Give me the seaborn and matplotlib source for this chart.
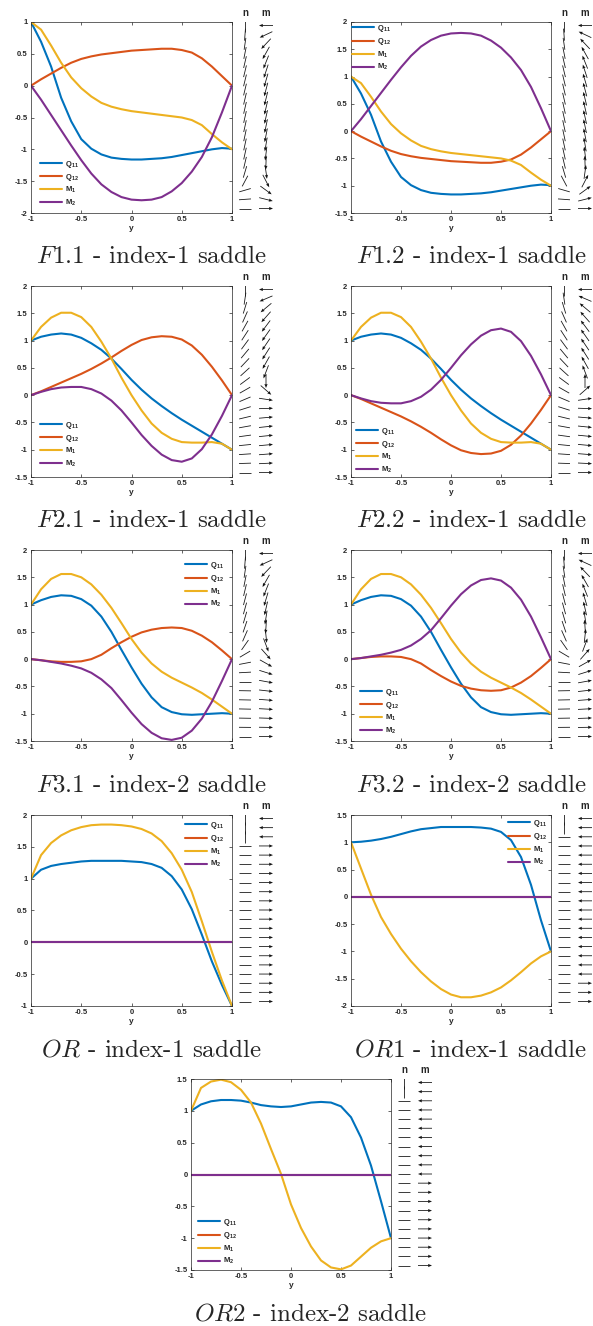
import numpy as np
import pandas as pd
import matplotlib
matplotlib.use("Agg")
import matplotlib.pyplot as plt
from matplotlib.collections import LineCollection
import seaborn as sns

# ---------------- data ----------------
Y_GRID = [-1.0, -0.9, -0.8, -0.7, -0.6, -0.5, -0.4, -0.3, -0.2, -0.1, 0.0,
          0.1, 0.2, 0.3, 0.4, 0.5, 0.6, 0.7, 0.8, 0.9, 1.0]

F11_Q11 = [1.00, 0.69, 0.30, -0.19, -0.56, -0.84, -0.99, -1.08, -1.13, -1.15, -1.16,
           -1.16, -1.15, -1.14, -1.12, -1.09, -1.06, -1.03, -1.00, -0.98, -0.99]
F11_Q12 = [0.00, 0.10, 0.19, 0.28, 0.36, 0.42, 0.46, 0.49, 0.51, 0.53, 0.55,
           0.56, 0.57, 0.58, 0.58, 0.56, 0.52, 0.43, 0.30, 0.15, 0.00]
F11_M1 = [1.00, 0.88, 0.63, 0.36, 0.13, -0.04, -0.17, -0.27, -0.33, -0.37, -0.40,
          -0.42, -0.44, -0.46, -0.48, -0.50, -0.54, -0.62, -0.76, -0.89, -1.00]
F11_M2 = [0.00, -0.22, -0.46, -0.70, -0.94, -1.17, -1.38, -1.55, -1.67, -1.75, -1.79,
          -1.80, -1.79, -1.75, -1.66, -1.53, -1.35, -1.12, -0.81, -0.42, 0.00]

F12_Q11 = [1.00, 0.69, 0.30, -0.19, -0.56, -0.84, -0.99, -1.08, -1.13, -1.15, -1.16,
           -1.16, -1.15, -1.14, -1.12, -1.09, -1.06, -1.03, -1.00, -0.98, -0.99]
F12_Q12 = [0.00, -0.10, -0.19, -0.28, -0.36, -0.42, -0.46, -0.49, -0.51, -0.53, -0.55,
           -0.56, -0.57, -0.58, -0.58, -0.56, -0.52, -0.43, -0.30, -0.15, 0.00]
F12_M1 = [1.00, 0.88, 0.63, 0.36, 0.13, -0.04, -0.17, -0.27, -0.33, -0.37, -0.40,
          -0.42, -0.44, -0.46, -0.48, -0.50, -0.54, -0.62, -0.76, -0.89, -1.00]
F12_M2 = [0.00, 0.22, 0.46, 0.70, 0.94, 1.17, 1.38, 1.55, 1.67, 1.75, 1.79,
          1.80, 1.79, 1.75, 1.66, 1.53, 1.35, 1.12, 0.81, 0.42, 0.00]

F21_Q11 = [1.00, 1.07, 1.11, 1.13, 1.11, 1.05, 0.95, 0.83, 0.67, 0.48, 0.28,
           0.10, -0.06, -0.20, -0.33, -0.45, -0.56, -0.67, -0.78, -0.89, -1.00]
F21_Q12 = [0.00, 0.07, 0.15, 0.23, 0.31, 0.39, 0.48, 0.58, 0.69, 0.81, 0.92,
           1.01, 1.06, 1.08, 1.07, 1.02, 0.91, 0.74, 0.52, 0.27, 0.00]
F21_M1 = [1.00, 1.25, 1.42, 1.51, 1.51, 1.43, 1.25, 0.98, 0.67, 0.32, 0.00,
          -0.28, -0.52, -0.69, -0.80, -0.86, -0.87, -0.87, -0.86, -0.89, -1.00]
F21_M2 = [0.00, 0.06, 0.11, 0.14, 0.15, 0.15, 0.11, 0.03, -0.10, -0.28, -0.50,
          -0.73, -0.93, -1.09, -1.19, -1.22, -1.16, -0.99, -0.72, -0.38, 0.00]

F22_Q11 = [1.00, 1.07, 1.11, 1.13, 1.11, 1.05, 0.95, 0.83, 0.67, 0.48, 0.28,
           0.10, -0.06, -0.20, -0.33, -0.45, -0.56, -0.67, -0.78, -0.89, -1.00]
F22_Q12 = [0.00, -0.07, -0.15, -0.23, -0.31, -0.39, -0.48, -0.58, -0.69, -0.81, -0.92,
           -1.01, -1.06, -1.08, -1.07, -1.02, -0.91, -0.74, -0.52, -0.27, 0.00]
F22_M1 = [1.00, 1.25, 1.42, 1.51, 1.51, 1.43, 1.25, 0.98, 0.67, 0.32, 0.00,
          -0.28, -0.52, -0.69, -0.80, -0.86, -0.87, -0.87, -0.86, -0.89, -1.00]
F22_M2 = [0.00, -0.06, -0.11, -0.14, -0.15, -0.15, -0.11, -0.03, 0.10, 0.28, 0.50,
          0.73, 0.93, 1.09, 1.19, 1.22, 1.16, 0.99, 0.72, 0.38, 0.00]

F31_Q11 = [1.00, 1.08, 1.14, 1.17, 1.16, 1.10, 0.98, 0.78, 0.50, 0.17, -0.15,
           -0.45, -0.70, -0.88, -0.97, -1.01, -1.02, -1.01, -1.00, -0.99, -1.00]
F31_Q12 = [0.00, -0.02, -0.04, -0.05, -0.05, -0.04, 0.00, 0.08, 0.20, 0.31, 0.41,
           0.49, 0.54, 0.57, 0.58, 0.57, 0.52, 0.43, 0.31, 0.16, 0.00]
F31_M1 = [1.00, 1.28, 1.47, 1.56, 1.56, 1.50, 1.37, 1.18, 0.94, 0.66, 0.37,
          0.12, -0.08, -0.23, -0.34, -0.43, -0.52, -0.62, -0.74, -0.87, -1.00]
F31_M2 = [0.00, -0.02, -0.05, -0.08, -0.12, -0.17, -0.25, -0.37, -0.53, -0.75, -0.98,
          -1.19, -1.35, -1.45, -1.48, -1.44, -1.31, -1.09, -0.78, -0.40, 0.00]

F32_Q11 = [1.00, 1.08, 1.14, 1.17, 1.16, 1.10, 0.98, 0.78, 0.50, 0.17, -0.15,
           -0.45, -0.70, -0.88, -0.97, -1.01, -1.02, -1.01, -1.00, -0.99, -1.00]
F32_Q12 = [0.00, 0.02, 0.04, 0.05, 0.05, 0.04, 0.00, -0.08, -0.20, -0.31, -0.41,
           -0.49, -0.54, -0.57, -0.58, -0.57, -0.52, -0.43, -0.31, -0.16, 0.00]
F32_M1 = [1.00, 1.28, 1.47, 1.56, 1.56, 1.50, 1.37, 1.18, 0.94, 0.66, 0.37,
          0.12, -0.08, -0.23, -0.34, -0.43, -0.52, -0.62, -0.74, -0.87, -1.00]
F32_M2 = [0.00, 0.02, 0.05, 0.08, 0.12, 0.17, 0.25, 0.37, 0.53, 0.75, 0.98,
          1.19, 1.35, 1.45, 1.48, 1.44, 1.31, 1.09, 0.78, 0.40, 0.00]

OR_Q11 = [1.00, 1.14, 1.20, 1.23, 1.25, 1.27, 1.28, 1.28, 1.28, 1.28, 1.27,
          1.26, 1.23, 1.17, 1.04, 0.83, 0.52, 0.12, -0.30, -0.67, -1.00]
OR_Q12 = [0.0, 0.0, 0.0, 0.0, 0.0, 0.0, 0.0, 0.0, 0.0, 0.0, 0.0,
          0.0, 0.0, 0.0, 0.0, 0.0, 0.0, 0.0, 0.0, 0.0, 0.0]
OR_M1 = [1.00, 1.37, 1.56, 1.68, 1.76, 1.81, 1.84, 1.85, 1.85, 1.84, 1.82,
         1.78, 1.71, 1.59, 1.40, 1.14, 0.79, 0.33, -0.15, -0.60, -1.00]
OR_M2 = [0.0, 0.0, 0.0, 0.0, 0.0, 0.0, 0.0, 0.0, 0.0, 0.0, 0.0,
         0.0, 0.0, 0.0, 0.0, 0.0, 0.0, 0.0, 0.0, 0.0, 0.0]

OR1_Q11 = [1.00, 1.01, 1.03, 1.06, 1.10, 1.15, 1.20, 1.24, 1.26, 1.28, 1.28,
           1.28, 1.28, 1.27, 1.25, 1.19, 1.04, 0.73, 0.22, -0.43, -1.00]
OR1_Q12 = [0.0, 0.0, 0.0, 0.0, 0.0, 0.0, 0.0, 0.0, 0.0, 0.0, 0.0,
           0.0, 0.0, 0.0, 0.0, 0.0, 0.0, 0.0, 0.0, 0.0, 0.0]
OR1_M1 = [1.00, 0.52, 0.04, -0.37, -0.68, -0.95, -1.18, -1.38, -1.55, -1.69, -1.79,
          -1.84, -1.84, -1.81, -1.75, -1.66, -1.53, -1.38, -1.22, -1.09, -1.00]
OR1_M2 = [0.0, 0.0, 0.0, 0.0, 0.0, 0.0, 0.0, 0.0, 0.0, 0.0, 0.0,
          0.0, 0.0, 0.0, 0.0, 0.0, 0.0, 0.0, 0.0, 0.0, 0.0]

OR2_Q11 = [1.00, 1.10, 1.15, 1.17, 1.17, 1.16, 1.13, 1.09, 1.07, 1.06, 1.07,
           1.10, 1.13, 1.14, 1.13, 1.07, 0.90, 0.58, 0.14, -0.42, -1.00]
OR2_Q12 = [0.0, 0.0, 0.0, 0.0, 0.0, 0.0, 0.0, 0.0, 0.0, 0.0, 0.0,
           0.0, 0.0, 0.0, 0.0, 0.0, 0.0, 0.0, 0.0, 0.0, 0.0]
OR2_M1 = [1.00, 1.36, 1.46, 1.49, 1.45, 1.33, 1.13, 0.80, 0.40, 0.01, -0.47,
          -0.84, -1.13, -1.35, -1.46, -1.49, -1.43, -1.29, -1.15, -1.05, -1.00]
OR2_M2 = [0.0, 0.0, 0.0, 0.0, 0.0, 0.0, 0.0, 0.0, 0.0, 0.0, 0.0,
          0.0, 0.0, 0.0, 0.0, 0.0, 0.0, 0.0, 0.0, 0.0, 0.0]

SERIES = ["Q11", "Q12", "M1", "M2"]
LEGEND_LABELS = [r"$\mathbf{Q}_{\mathbf{11}}$", r"$\mathbf{Q}_{\mathbf{12}}$",
                 r"$\mathbf{M}_{\mathbf{1}}$", r"$\mathbf{M}_{\mathbf{2}}$"]
COLORS = ["#0072BD", "#D95319", "#EDB120", "#7E2F8E"]
X_TICKS = [-1, -0.5, 0, 0.5, 1]
X_TICK_LABELS = ["-1", "-0.5", "0", "0.5", "1"]

CAPTIONS = [r"$F$1.1 - index-1 saddle", r"$F$1.2 - index-1 saddle",
            r"$F$2.1 - index-1 saddle", r"$F$2.2 - index-1 saddle",
            r"$F$3.1 - index-2 saddle", r"$F$3.2 - index-2 saddle",
            r"$OR$ - index-1 saddle", r"$OR$1 - index-1 saddle",
            r"$OR$2 - index-2 saddle"]
Y_LIMITS = [(-2, 1), (-1.5, 2), (-1.5, 2), (-1.5, 2), (-1.5, 2), (-1.5, 2),
            (-1, 2), (-2, 1.5), (-1.5, 1.5)]
DATA = [(F11_Q11, F11_Q12, F11_M1, F11_M2), (F12_Q11, F12_Q12, F12_M1, F12_M2),
        (F21_Q11, F21_Q12, F21_M1, F21_M2), (F22_Q11, F22_Q12, F22_M1, F22_M2),
        (F31_Q11, F31_Q12, F31_M1, F31_M2), (F32_Q11, F32_Q12, F32_M1, F32_M2),
        (OR_Q11, OR_Q12, OR_M1, OR_M2), (OR1_Q11, OR1_Q12, OR1_M1, OR1_M2),
        (OR2_Q11, OR2_Q12, OR2_M1, OR2_M2)]

# ---------------- layout (pixels) ----------------
W, H = 593, 1326
ROW_TOPS = [22, 286, 550, 815, 1079]
AH = 191
# (left, top, width, legend placement: (loc, dx, dy) in px)
LAYOUT = [
    (31, ROW_TOPS[0], 201, ("lower left", 9, 5)),
    (351, ROW_TOPS[0], 200, ("upper left", 1, 1)),
    (31, ROW_TOPS[1], 201, ("lower left", 9, 8)),
    (351, ROW_TOPS[1], 200, ("lower left", 5, 2)),
    (31, ROW_TOPS[2], 201, ("upper right", 8, 10)),
    (351, ROW_TOPS[2], 200, ("lower left", 9, 5)),
    (31, ROW_TOPS[3], 201, ("upper right", 8, 5)),
    (351, ROW_TOPS[3], 200, ("upper right", 4, 3)),
    (191, ROW_TOPS[4], 200, ("lower left", 7, 3.5)),
]

sns.set_style("ticks")
plt.rcParams.update({
    "font.family": ["Liberation Sans", "DejaVu Sans"],
    "mathtext.fontset": "custom",
    "mathtext.rm": "cmr10",
    "mathtext.it": "cmmi10",
    "mathtext.bf": "Liberation Sans:bold",
    "axes.edgecolor": "#262626",
    "axes.linewidth": 0.5,
    "xtick.color": "#262626",
    "ytick.color": "#262626",
    "axes.facecolor": "white",
})

fig = plt.figure(figsize=(W / 100, H / 100), dpi=100)


def frac(left, top, w, h):
    return [left / W, 1 - (top + h) / H, w / W, h / H]


for i in range(9):
    L, T, AW, (loc, ldx, ldy) = LAYOUT[i]
    q11, q12, m1, m2 = DATA[i]
    ax = fig.add_axes(frac(L, T, AW, AH))
    df = pd.DataFrame({
        "y": Y_GRID * 4,
        "value": list(q11) + list(q12) + list(m1) + list(m2),
        "series": np.repeat(SERIES, len(Y_GRID)),
    })
    sns.lineplot(data=df, x="y", y="value", hue="series", hue_order=SERIES,
                 palette=COLORS, linewidth=1.5, ax=ax, legend=False,
                 errorbar=None, sort=False)
    lo, hi = Y_LIMITS[i]
    ax.set_xlim(-1, 1)
    ax.set_ylim(lo, hi)
    yt = list(np.arange(lo, hi + 0.01, 0.5))
    ax.set_xticks(X_TICKS, X_TICK_LABELS, fontsize=5.5, fontweight="bold")
    ax.set_yticks(yt, [f"{v:g}" for v in yt], fontsize=5.5, fontweight="bold")
    ax.tick_params(direction="in", length=2.2, width=0.5, top=True, right=True, pad=2.5)
    ax.set_xlabel("y", fontsize=6, fontweight="bold", labelpad=1)
    ax.set_ylabel("")
    for s in ax.spines.values():
        s.set_visible(True)
        s.set_linewidth(0.5)

    # legend
    if loc == "lower left":
        anchor = (ldx / AW, ldy / AH)
    elif loc == "upper left":
        anchor = (ldx / AW, 1 - ldy / AH)
    else:
        anchor = (1 - ldx / AW, 1 - ldy / AH)
    ax.legend(ax.lines[:4], LEGEND_LABELS, loc=loc, bbox_to_anchor=anchor,
              frameon=False, fontsize=5.5, handlelength=2.9, handletextpad=0.4,
              labelspacing=0.3, borderpad=0, borderaxespad=0)

    # director / polarisation field
    qa = fig.add_axes(frac(L + AW + 2, T, 44, AH))
    k = 2.0 / (AH - 8)          # data-y units per pixel
    qa.set_xlim(0, 44)          # data-x units = pixels
    qa.set_ylim(-1 - 4.5 * k, 1 + 3.5 * k)
    qa.axis("off")
    Q11a, Q12a = np.array(q11), np.array(q12)
    M1a, M2a = np.array(m1), np.array(m2)
    yv = np.array(Y_GRID)
    theta = 0.5 * np.arctan2(Q12a, Q11a)
    half = 6.0
    segs = [[(11 - half * np.cos(t), yy - half * np.sin(t) * k),
             (11 + half * np.cos(t), yy + half * np.sin(t) * k)]
            for t, yy in zip(theta, yv)]
    qa.add_collection(LineCollection(segs, colors="#1a1a1a", linewidths=0.6))
    mn = np.hypot(M1a, M2a)
    mn = np.where(mn == 0, 1, mn)
    mx = np.full(len(Y_GRID), 32.0)
    qa.quiver(mx, yv, M1a / mn, M2a / mn, pivot="mid",
              units="dots", width=0.8, scale_units="dots", scale=1 / 14,
              headwidth=4, headlength=5, headaxislength=4.5, color="#111111")
    fig.text((L + AW + 13) / W, 1 - (T - 9) / H, "n", fontsize=7,
             fontweight="bold", ha="center", va="center")
    fig.text((L + AW + 34) / W, 1 - (T - 9) / H, "m", fontsize=7,
             fontweight="bold", ha="center", va="center")

    # caption
    cx = (L + L + AW + 40) / 2
    cy = T + AH + 44
    fig.text(cx / W, 1 - cy / H, CAPTIONS[i], fontsize=18,
             family=["cmr10", "DejaVu Serif"], ha="center", va="center")

fig.savefig("out.png", dpi=100)
